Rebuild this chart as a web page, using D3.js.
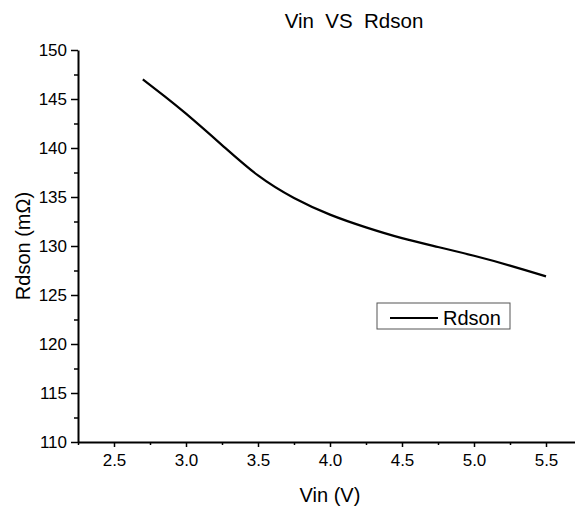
<!DOCTYPE html>
<html>
<head>
<meta charset="utf-8">
<script src="https://cdn.jsdelivr.net/npm/d3@7"></script>
<style>
  body { margin: 0; background: #fff; }
  svg { font-family: "Liberation Sans", Arial, sans-serif; }
</style>
</head>
<body>
<div id="chart"></div>
<script>
let width = 575,
    height = 507,
    margin = ({ top: 50, right: 0, bottom: 65, left: 78 });

// values
const vin = [2.7, 2.85, 3.0, 3.25, 3.5, 3.75, 4.0, 4.25, 4.5, 4.75, 5.0, 5.25, 5.5];
const rdson = [147.0, 145.3, 143.5, 140.3, 137.2, 134.9, 133.2, 131.9, 130.8, 129.9, 129.0, 128.0, 126.9];
const xTicks = [2.5, 3.0, 3.5, 4.0, 4.5, 5.0, 5.5];
const yTicks = [110, 115, 120, 125, 130, 135, 140, 145, 150];

const data = vin.map((v, i) => ({ v: v, r: rdson[i] }));

const svg = d3.select("#chart")
    .append("svg")
    .attr("width", width)
    .attr("height", height);

// x ends at the right edge of the picture
let x = d3.scaleLinear()
    .domain([2.25, 2.25 + (width - margin.left) / 144])
    .range([margin.left, width - margin.right]);

let y = d3.scaleLinear()
    .domain([110, 150])
    .range([height - margin.bottom, margin.top]);

// minor ticks first, then major ones on top
const xMinor = d3.range(2.25, 5.76, 0.5);
const yMinor = d3.range(112.5, 150, 5);

svg.append("g")
    .attr("transform", `translate(0,${y(110)})`)
    .call(d3.axisBottom(x).tickValues(xMinor).tickSize(3).tickFormat(""))
    .call(g => g.select(".domain").remove());

svg.append("g")
    .attr("transform", `translate(${margin.left},0)`)
    .call(d3.axisLeft(y).tickValues(yMinor).tickSize(4).tickFormat(""))
    .call(g => g.select(".domain").remove());

const xAxis = svg.append("g")
    .attr("transform", `translate(0,${y(110)})`)
    .call(d3.axisBottom(x).tickValues(xTicks).tickSize(5).tickPadding(7).tickSizeOuter(0).tickFormat(d3.format(".1f")));

const yAxis = svg.append("g")
    .attr("transform", `translate(${margin.left},0)`)
    .call(d3.axisLeft(y).tickValues(yTicks).tickSize(7).tickPadding(4).tickSizeOuter(0));

svg.selectAll(".tick line").attr("stroke", "#000").attr("stroke-width", 1.5);
svg.selectAll(".domain").attr("stroke", "#000").attr("stroke-width", 2);
svg.selectAll(".tick text")
    .attr("fill", "#000")
    .style("font-family", "'Liberation Sans', Arial, sans-serif")
    .style("font-size", "17px");

// the curve
const line = d3.line()
    .x(d => x(d.v))
    .y(d => y(d.r))
    .curve(d3.curveNatural);

svg.append("path")
    .datum(data)
    .attr("fill", "none")
    .attr("stroke", "#000")
    .attr("stroke-width", 2.2)
    .attr("d", line);

// title and axis labels
svg.append("text")
    .attr("x", 354)
    .attr("y", 28)
    .attr("text-anchor", "middle")
    .style("font-size", "20.5px")
    .attr("xml:space", "preserve")
    .text("Vin  VS  Rdson");

svg.append("text")
    .attr("x", 330)
    .attr("y", 502)
    .attr("text-anchor", "middle")
    .style("font-size", "20px")
    .text("Vin (V)");

svg.append("text")
    .attr("transform", `translate(30,${y(130)}) rotate(-90)`)
    .attr("text-anchor", "middle")
    .style("font-size", "20px")
    .text("Rdson (mΩ)");

// legend
const legend = svg.append("g").attr("transform", "translate(377,303)");
legend.append("rect")
    .attr("width", 133)
    .attr("height", 26)
    .attr("fill", "#fff")
    .attr("stroke", "#555")
    .attr("stroke-width", 1);
legend.append("line")
    .attr("x1", 13).attr("x2", 61)
    .attr("y1", 15).attr("y2", 15)
    .attr("stroke", "#000")
    .attr("stroke-width", 2.2);
legend.append("text")
    .attr("x", 66)
    .attr("y", 21.5)
    .style("font-size", "20px")
    .text("Rdson");
</script>
</body>
</html>
